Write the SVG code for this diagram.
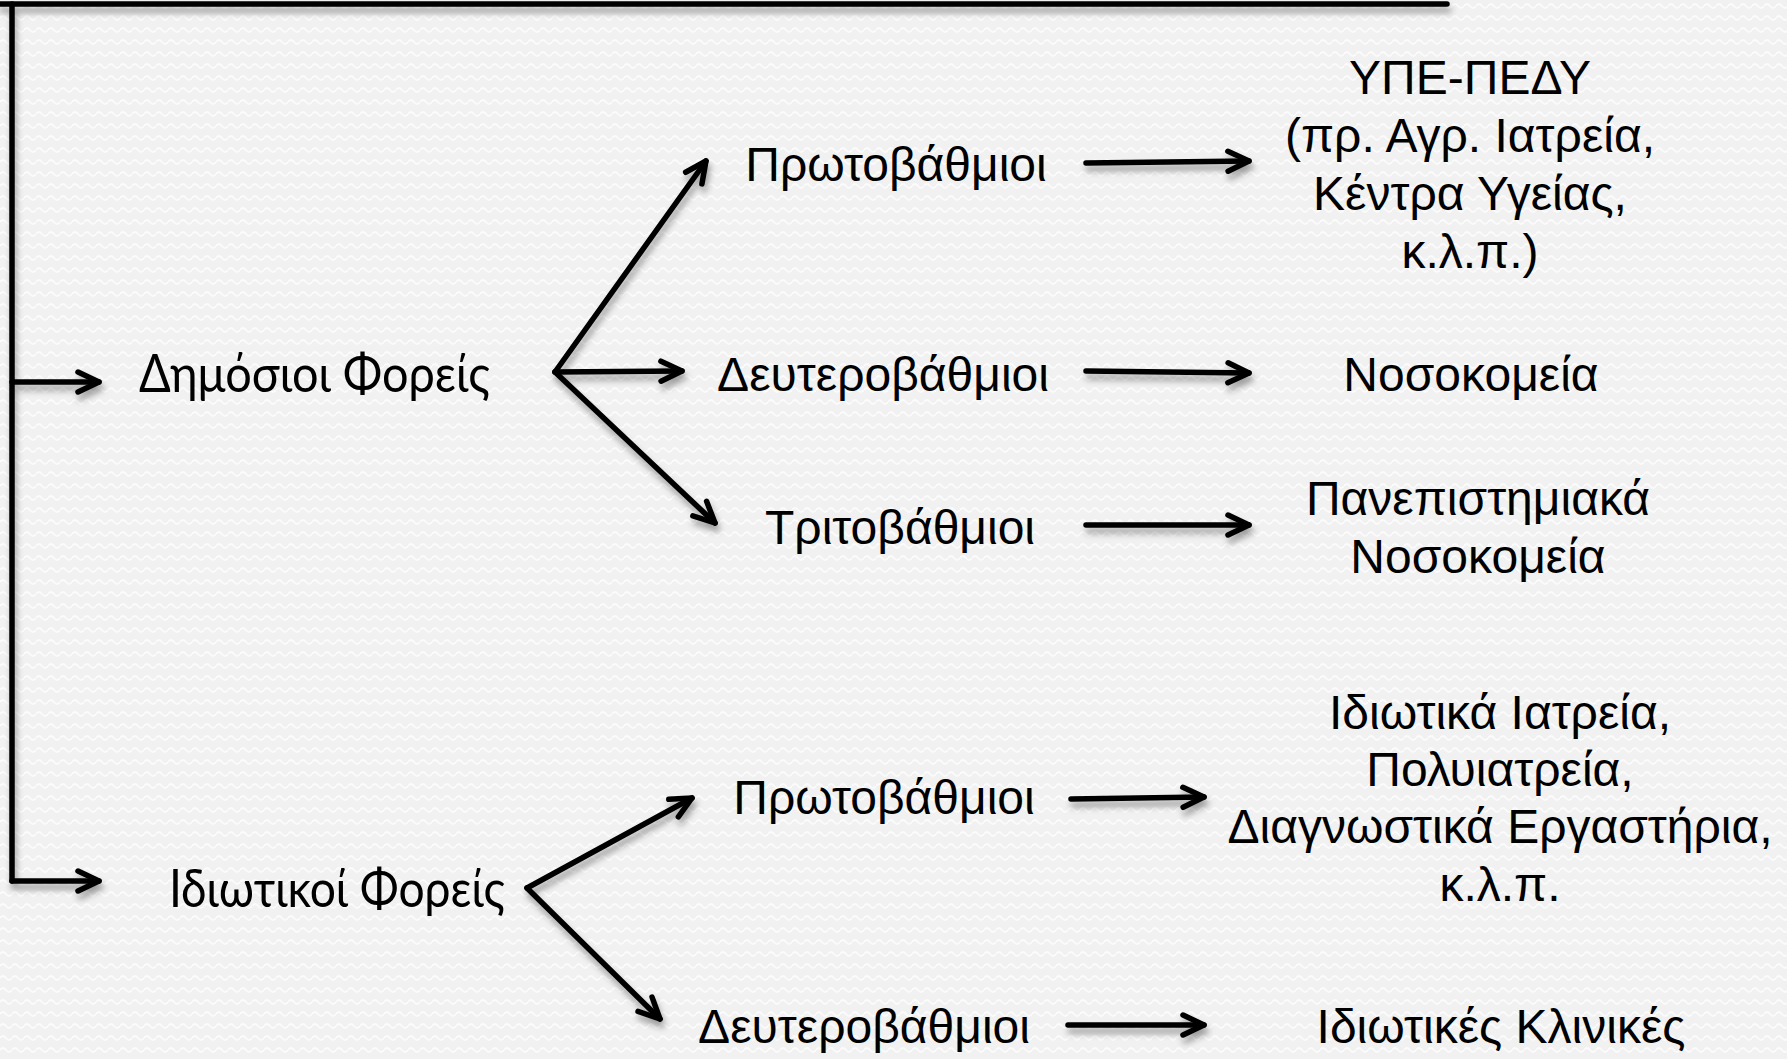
<svg xmlns="http://www.w3.org/2000/svg" width="1787" height="1059" viewBox="0 0 1787 1059">
<style>
.t{font-family:"Liberation Sans",Arial,sans-serif;font-size:48px;fill:#000;text-anchor:middle}
.h{font-family:Lato,"Open Sans",sans-serif;font-size:53px;fill:#000}
.c{fill:none;stroke:#000;stroke-width:5.5;stroke-linecap:round;stroke-linejoin:round}
</style>
<defs>
<pattern id="bg" width="12" height="12" patternUnits="userSpaceOnUse">
<rect width="12" height="12" fill="#f1f1f1"/>
<path d="M0,6 Q3,2 6,6 T12,6" fill="none" stroke="#fbfbfb" stroke-width="2"/>
</pattern>
<filter id="sh" x="-10%" y="-10%" width="130%" height="140%">
<feDropShadow dx="2" dy="6" stdDeviation="3" flood-color="#000" flood-opacity="0.35"/>
</filter>
<marker id="ah" markerUnits="userSpaceOnUse" viewBox="-26 -14 32 28" markerWidth="32" markerHeight="28" refX="0" refY="0" orient="auto" overflow="visible">
<path d="M-21,-10 L0,0 L-21,10" fill="none" stroke="#000" stroke-width="5.5" stroke-linecap="round" stroke-linejoin="round"/>
</marker>
</defs>
<rect width="1787" height="1059" fill="url(#bg)"/>
<g id="connectors" class="c" filter="url(#sh)">
<path d="M0,4 H1447"/>
<path d="M12,4 V881"/>
<path d="M12,382 H99" marker-end="url(#ah)"/>
<path d="M12,881 H99" marker-end="url(#ah)"/>
<path d="M555,372 L706,161" marker-end="url(#ah)"/>
<path d="M555,372 L682,371" marker-end="url(#ah)"/>
<path d="M555,372 L715,523" marker-end="url(#ah)"/>
<path d="M1086,163 L1249,161" marker-end="url(#ah)"/>
<path d="M1086,371 L1249,373" marker-end="url(#ah)"/>
<path d="M1086,525 L1249,525" marker-end="url(#ah)"/>
<path d="M527,888 L692,798" marker-end="url(#ah)"/>
<path d="M527,888 L660,1019" marker-end="url(#ah)"/>
<path d="M1071,799 L1204,797" marker-end="url(#ah)"/>
<path d="M1068,1025 L1204,1025" marker-end="url(#ah)"/>
</g>
<g id="dimosioi"><text class="h" x="139" y="392" textLength="351" lengthAdjust="spacingAndGlyphs">Δημόσιοι Φορείς</text></g>
<g id="idiotikoi"><text class="h" x="169" y="907" textLength="336" lengthAdjust="spacingAndGlyphs">Ιδιωτικοί Φορείς</text></g>
<g id="pub-prot"><text class="t" x="896" y="181">Πρωτοβάθμιοι</text></g>
<g id="pub-deut"><text class="t" x="883" y="391">Δευτεροβάθμιοι</text></g>
<g id="pub-trit"><text class="t" x="900" y="544">Τριτοβάθμιοι</text></g>
<g id="ype"><text class="t" x="1470"><tspan x="1470" y="94">ΥΠΕ-ΠΕΔΥ</tspan><tspan x="1470" y="152">(πρ. Αγρ. Ιατρεία,</tspan><tspan x="1470" y="210">Κέντρα Υγείας,</tspan><tspan x="1470" y="268">κ.λ.π.)</tspan></text></g>
<g id="nosokomeia"><text class="t" x="1471" y="391">Νοσοκομεία</text></g>
<g id="panepist"><text class="t" x="1478"><tspan x="1478" y="515">Πανεπιστημιακά</tspan><tspan x="1478" y="573">Νοσοκομεία</tspan></text></g>
<g id="priv-prot"><text class="t" x="884" y="814">Πρωτοβάθμιοι</text></g>
<g id="priv-deut"><text class="t" x="864" y="1043">Δευτεροβάθμιοι</text></g>
<g id="idiot-iatr"><text class="t" x="1500"><tspan x="1500" y="729">Ιδιωτικά Ιατρεία,</tspan><tspan x="1500" y="786">Πολυιατρεία,</tspan><tspan x="1500" y="843">Διαγνωστικά Εργαστήρια,</tspan><tspan x="1500" y="901">κ.λ.π.</tspan></text></g>
<g id="klinikes"><text class="t" x="1501" y="1043">Ιδιωτικές Κλινικές</text></g>
</svg>
